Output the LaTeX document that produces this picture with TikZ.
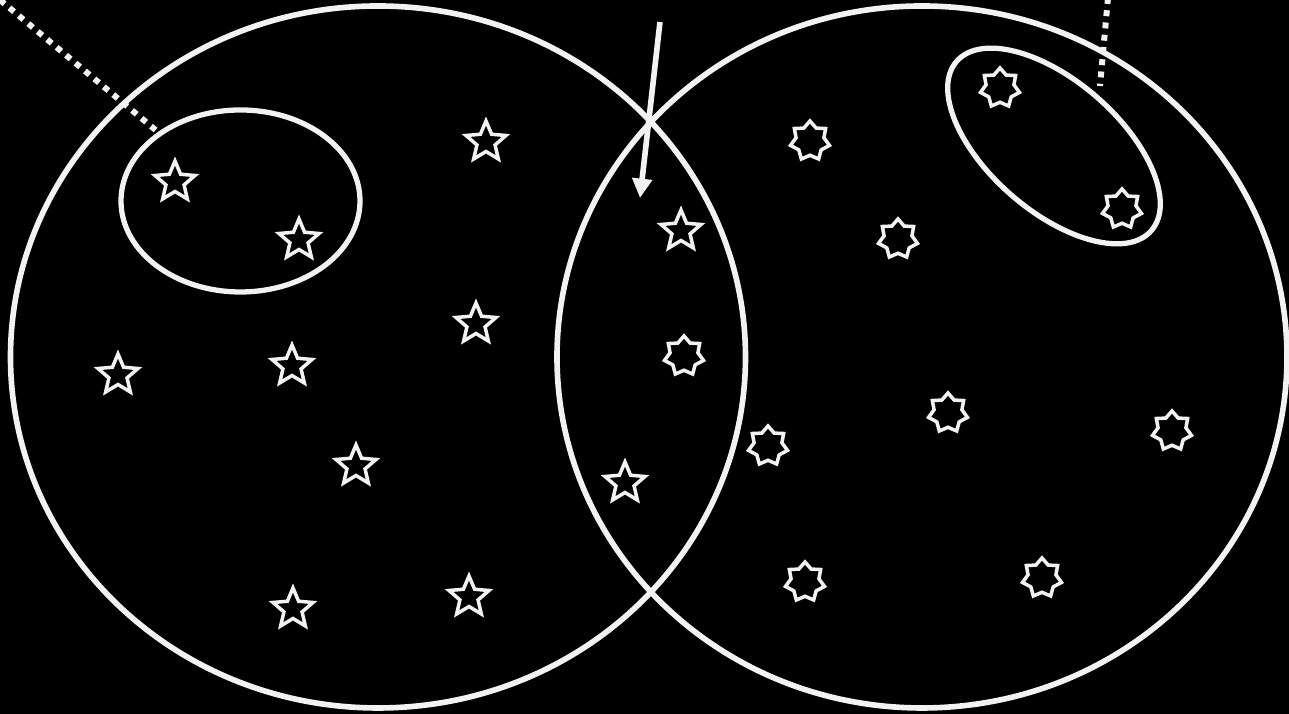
\documentclass[tikz,border=0pt]{standalone}
\usetikzlibrary{shapes.geometric,arrows.meta}
\definecolor{chalk}{HTML}{F2F2F2}
\begin{document}
\begin{tikzpicture}[
    set/.style={draw=chalk, line width=1.6pt, ellipse, inner sep=0pt},
    group/.style={draw=chalk, line width=1.5pt, ellipse, inner sep=0pt},
    fivestar/.style={draw=chalk, line width=1pt, star, star points=5, star point ratio=2.2, minimum size=0.42cm, inner sep=0pt},
    sevenstar/.style={draw=chalk, line width=1pt, star, star points=7, star point ratio=1.4, minimum size=0.40cm, inner sep=0pt},
    link/.style={chalk, line width=1.7pt, dash pattern=on 1.7pt off 1.8pt}
]
    % Background
    \fill[black] (0,0) rectangle (12.89,7.14);
    \useasboundingbox (0,0) rectangle (12.89,7.14);
    % Sets
    \node[set, minimum width=7.35cm, minimum height=7.02cm] (setA) at (3.78,3.57) {};
    \node[set, minimum width=7.30cm, minimum height=7.02cm] (setB) at (9.22,3.57) {};
    % Groups
    \node[group, minimum width=2.39cm, minimum height=1.82cm] (groupA) at (2.405,5.13) {};
    \node[group, minimum width=2.58cm, minimum height=1.30cm, rotate=-41] (groupB) at (10.54,5.68) {};
    % Five point stars
    \foreach \x/\y [count=\i] in {1.75/5.32, 2.99/4.74, 4.86/5.72, 6.81/4.83, 4.76/3.90, 2.92/3.48, 1.18/3.39, 3.56/2.48, 6.25/2.31, 2.93/1.05, 4.69/1.17}
        \node[fivestar] (a\i) at (\x,\y) {};
    % Seven point stars
    \foreach \x/\y [count=\i] in {10.00/6.26, 8.10/5.73, 11.22/5.05, 8.98/4.75, 6.84/3.58, 9.48/3.01, 7.68/2.68, 11.72/2.83, 8.05/1.32, 10.42/1.36}
        \node[sevenstar] (b\i) at (\x,\y) {};
    % Pointers
    \coordinate (cornerA) at (0,7.14);
    \coordinate (topB) at (11.08,7.16);
    \coordinate (endB) at (11.00,6.28);
    \draw[link] (cornerA) -- (groupA);
    \draw[link] (topB) -- (endB);
    \coordinate (arrowtail) at (6.60,6.92);
    \coordinate (arrowhead) at (6.40,5.16);
    \draw[-{Triangle[length=5.5pt,width=5.5pt]}, chalk, line width=1.6pt] (arrowtail) -- (arrowhead);
\end{tikzpicture}
\end{document}
